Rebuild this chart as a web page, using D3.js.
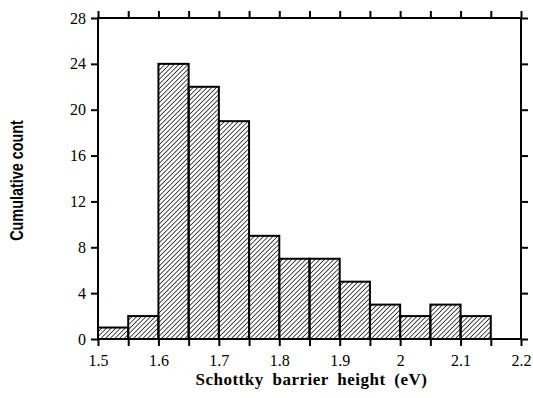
<!DOCTYPE html>
<html>
<head>
<meta charset="utf-8">
<script src="https://cdn.jsdelivr.net/npm/d3@7"></script>
<style>
  html, body { margin: 0; padding: 0; background: #fff; }
  svg { display: block; }
</style>
</head>
<body>
<svg id="chart" width="533" height="398"></svg>
<script>
// bin left edges (eV) and counts
const binStarts = [1.5, 1.55, 1.6, 1.65, 1.7, 1.75, 1.8, 1.85, 1.9, 1.95, 2.0, 2.05, 2.1];
const counts = [1, 2, 24, 22, 19, 9, 7, 7, 5, 3, 2, 3, 2];
const binWidth = 0.05;
const xTickLabels = [1.5, 1.6, 1.7, 1.8, 1.9, 2, 2.1, 2.2];
const yTickLabels = [0, 4, 8, 12, 16, 20, 24, 28];

const margin = { top: 18, right: 12, bottom: 59, left: 98 };
const width = 533, height = 398;

const svg = d3.select('#chart');

const x = d3.scaleLinear().domain([1.5, 2.2]).range([margin.left, width - margin.right]);
const y = d3.scaleLinear().domain([0, 28]).range([height - margin.bottom, margin.top]);

// hatch
svg.append('defs').append('pattern')
  .attr('id', 'hatch')
  .attr('patternUnits', 'userSpaceOnUse')
  .attr('width', 3.3)
  .attr('height', 3.3)
  .attr('patternTransform', 'rotate(45)')
  .append('line')
  .attr('x1', 0).attr('y1', 0)
  .attr('x2', 0).attr('y2', 3.3)
  .attr('stroke', '#000')
  .attr('stroke-width', 1.4);

const bins = binStarts.map((s, i) => ({ x0: s, x1: s + binWidth, n: counts[i] }));

svg.append('g')
  .selectAll('rect')
  .data(bins)
  .join('rect')
  .attr('x', d => x(d.x0))
  .attr('y', d => y(d.n))
  .attr('width', d => x(d.x1) - x(d.x0))
  .attr('height', d => y(0) - y(d.n))
  .attr('fill', 'url(#hatch)')
  .attr('stroke', '#000')
  .attr('stroke-width', 2);

const xTicks = d3.range(0, 15).map(i => 1.5 + i * binWidth);
const tickLen = 7;
const isLabelled = d => xTickLabels.some(v => Math.abs(v - d) < 1e-6);

const axBottom = svg.append('g')
  .attr('transform', `translate(0, ${y(0)})`)
  .call(d3.axisBottom(x).tickValues(xTicks).tickSize(tickLen)
    .tickFormat(d => isLabelled(d) ? d3.format('.2~f')(d) : ''));

const axTop = svg.append('g')
  .attr('transform', `translate(0, ${y(28)})`)
  .call(d3.axisTop(x).tickValues(xTicks).tickSize(tickLen).tickFormat(''));

const axLeft = svg.append('g')
  .attr('transform', `translate(${x(1.5)}, 0)`)
  .call(d3.axisLeft(y).tickValues(yTickLabels).tickSize(tickLen).tickPadding(5));

const axRight = svg.append('g')
  .attr('transform', `translate(${x(2.2)}, 0)`)
  .call(d3.axisRight(y).tickValues(yTickLabels).tickSize(tickLen).tickFormat(''));

[axBottom, axTop, axLeft, axRight].forEach(g => {
  g.select('.domain').remove();
  g.selectAll('.tick line').attr('stroke-width', 2);
  g.selectAll('.tick text')
    .attr('fill', '#000')
    .style('font-family', '"Liberation Serif", "Times New Roman", serif')
    .style('font-size', '16px');
});
axBottom.selectAll('.tick text').attr('y', 27).attr('dy', 0);

// frame
svg.append('rect')
  .attr('x', x(1.5)).attr('y', y(28))
  .attr('width', x(2.2) - x(1.5)).attr('height', y(0) - y(28))
  .attr('fill', 'none').attr('stroke', '#000').attr('stroke-width', 2);

svg.append('text')
  .attr('x', (x(1.5) + x(2.2)) / 2 + 2)
  .attr('y', 385)
  .attr('text-anchor', 'middle')
  .style('font-family', '"Liberation Serif", "Times New Roman", serif')
  .style('font-weight', 'bold')
  .style('font-size', '17px')
  .style('letter-spacing', '0.5px')
  .style('word-spacing', '4px')
  .text('Schottky barrier height (eV)');

svg.append('text')
  .attr('transform', `translate(23, ${(y(0) + y(28)) / 2 + 2}) rotate(-90) scale(0.8, 1)`)
  .attr('text-anchor', 'middle')
  .style('font-family', '"Liberation Sans", Arial, sans-serif')
  .style('font-weight', 'bold')
  .style('font-size', '18px')
  .text('Cumulative count');
</script>
</body>
</html>
